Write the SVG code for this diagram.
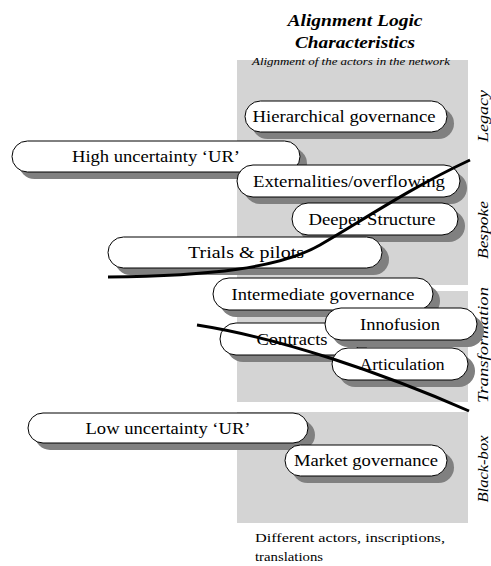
<svg xmlns="http://www.w3.org/2000/svg" width="491" height="566" viewBox="0 0 491 566">
<style>
.panel{fill:#d4d4d4}
.sh{fill:#808080}
.pill{fill:#fff;stroke:#000;stroke-width:1}
text{font-family:'Liberation Serif','Times New Roman',serif;fill:#000}
.t{font-size:16px;text-anchor:middle}
.title{font-size:17px;font-weight:bold;font-style:italic;text-anchor:middle}
.sub{font-size:11px;font-style:italic}
.side{font-size:15px;font-style:italic;text-anchor:middle}
.foot{font-size:13px}
.curve{fill:none;stroke:#000;stroke-width:3}
</style>
<g id="panels">
<rect class="panel" x="237" y="60" width="231" height="225"/>
<rect class="panel" x="237" y="291" width="231" height="111"/>
<rect class="panel" x="237" y="412" width="231" height="111"/>
</g>
<g id="title">
<text class="title" x="355" y="26" textLength="135" lengthAdjust="spacingAndGlyphs">Alignment Logic</text>
<text class="title" x="355" y="48" textLength="120" lengthAdjust="spacingAndGlyphs">Characteristics</text>
<text class="sub" x="252" y="65" textLength="198" lengthAdjust="spacingAndGlyphs">Alignment of the actors in the network</text>
</g>
<g id="side-labels">
<text class="side" transform="translate(488,116) rotate(-90)" textLength="52" lengthAdjust="spacingAndGlyphs">Legacy</text>
<text class="side" transform="translate(488,230) rotate(-90)" textLength="58" lengthAdjust="spacingAndGlyphs">Bespoke</text>
<text class="side" transform="translate(488,345) rotate(-90)" textLength="116" lengthAdjust="spacingAndGlyphs">Transformation</text>
<text class="side" transform="translate(488,469) rotate(-90)" textLength="67" lengthAdjust="spacingAndGlyphs">Black-box</text>
</g>
<g id="n-hierarchical">
<rect class="sh" x="252" y="108" width="202" height="31" rx="15.5"/>
<rect class="pill" x="245" y="101" width="202" height="31" rx="15.5"/>
<text class="t" x="344" y="122" textLength="183" lengthAdjust="spacingAndGlyphs">Hierarchical governance</text>
</g>
<g id="n-high">
<rect class="sh" x="19" y="148" width="288" height="31" rx="15.5"/>
<rect class="pill" x="12" y="141" width="288" height="31" rx="15.5"/>
<text class="t" x="156" y="162" textLength="168" lengthAdjust="spacingAndGlyphs">High uncertainty ‘UR’</text>
</g>
<g id="n-externalities">
<rect class="sh" x="244" y="172" width="223" height="32" rx="16"/>
<rect class="pill" x="237" y="165" width="223" height="32" rx="16"/>
<text class="t" x="349" y="187" textLength="192" lengthAdjust="spacingAndGlyphs">Externalities/overflowing</text>
</g>
<g id="n-deeper">
<rect class="sh" x="299" y="210" width="166" height="32" rx="16"/>
<rect class="pill" x="292" y="203" width="166" height="32" rx="16"/>
<text class="t" x="372" y="225" textLength="127" lengthAdjust="spacingAndGlyphs">Deeper Structure</text>
</g>
<g id="n-trials">
<rect class="sh" x="115" y="244" width="274" height="31" rx="15.5"/>
<rect class="pill" x="108" y="237" width="274" height="31" rx="15.5"/>
<text class="t" x="246" y="258" textLength="116" lengthAdjust="spacingAndGlyphs">Trials &amp; pilots</text>
</g>
<g id="n-intermediate">
<rect class="sh" x="220" y="285" width="220" height="32" rx="16"/>
<rect class="pill" x="213" y="278" width="220" height="32" rx="16"/>
<text class="t" x="323" y="300" textLength="183" lengthAdjust="spacingAndGlyphs">Intermediate governance</text>
</g>
<g id="n-contracts">
<rect class="sh" x="227" y="330" width="140" height="32" rx="16"/>
<rect class="pill" x="220" y="323" width="140" height="32" rx="16"/>
<text class="t" x="292" y="345" textLength="71" lengthAdjust="spacingAndGlyphs">Contracts</text>
</g>
<g id="n-innofusion">
<rect class="sh" x="332" y="315" width="152" height="32" rx="16"/>
<rect class="pill" x="325" y="308" width="152" height="32" rx="16"/>
<text class="t" x="400" y="330" textLength="80" lengthAdjust="spacingAndGlyphs">Innofusion</text>
</g>
<g id="n-articulation">
<rect class="sh" x="339" y="355" width="136" height="32" rx="16"/>
<rect class="pill" x="332" y="348" width="136" height="32" rx="16"/>
<text class="t" x="402" y="370" textLength="85" lengthAdjust="spacingAndGlyphs">Articulation</text>
</g>
<g id="n-low">
<rect class="sh" x="35" y="420" width="280" height="30" rx="15"/>
<rect class="pill" x="28" y="413" width="280" height="30" rx="15"/>
<text class="t" x="168" y="434" textLength="165" lengthAdjust="spacingAndGlyphs">Low uncertainty ‘UR’</text>
</g>
<g id="n-market">
<rect class="sh" x="292" y="452" width="162" height="31" rx="15.5"/>
<rect class="pill" x="285" y="445" width="162" height="31" rx="15.5"/>
<text class="t" x="366" y="466" textLength="144" lengthAdjust="spacingAndGlyphs">Market governance</text>
</g>
<g id="connectors">
<path class="curve" d="M108,277 C210,276 280,268 320,245 C360,222 410,188 470,160"/>
<path class="curve" d="M197,325 C280,338 380,372 469,411"/>
</g>
<g id="footer">
<text class="foot" x="255" y="542" textLength="190" lengthAdjust="spacingAndGlyphs">Different actors, inscriptions,</text>
<text class="foot" x="255" y="561" textLength="68" lengthAdjust="spacingAndGlyphs">translations</text>
</g>
</svg>
